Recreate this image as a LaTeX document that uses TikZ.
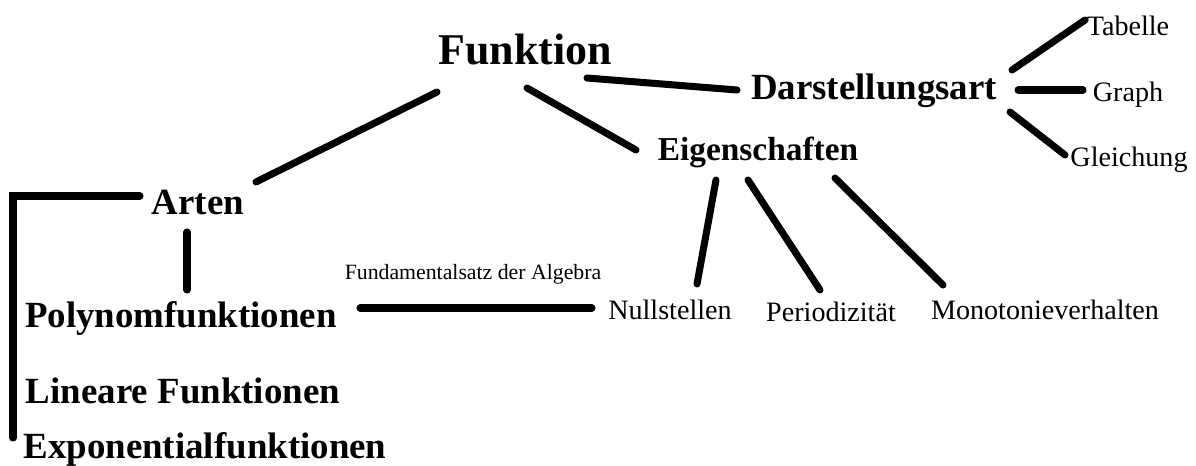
\documentclass[tikz,border=0pt]{standalone}
\usepackage{fontspec}
\setmainfont{Liberation Serif}
\usetikzlibrary{calc}
\tikzstyle{haupt} = [font=\bfseries\fontsize{25}{30}\selectfont, inner sep=0pt, anchor=base]
\tikzstyle{ober} = [font=\bfseries\fontsize{21}{25}\selectfont, inner sep=0pt, anchor=base]
\tikzstyle{eigen} = [font=\bfseries\fontsize{19}{23}\selectfont, inner sep=0pt, anchor=base]
\tikzstyle{unter} = [font=\fontsize{16}{19}\selectfont, inner sep=0pt, anchor=base]
\tikzstyle{klein} = [font=\fontsize{12.4}{15}\selectfont, inner sep=0pt, anchor=base]
\tikzstyle{ast} = [line width=4pt, line cap=round]

\begin{document}
\begin{tikzpicture}[x=0.02cm, y=-0.02cm]
				\fill[white] (0,0) rectangle (1196,466);
				\useasboundingbox (0,0) rectangle (1196,466);
				\node[haupt] (fkt) at (525,65) {Funktion};
				\node[ober] (darst) at (874,100) {Darstellungsart};
				\node[eigen] (eig) at (758,160) {Eigenschaften};
				\node[unter] (tab) at (1128,36) {Tabelle};
				\node[unter] (graph) at (1128,102) {Graph};
				\node[unter] (gleich) at (1129,166) {Gleichung};
				\node[ober] (arten) at (198,214) {Arten};
				\node[ober] (poly) at (181,327) {Polynomfunktionen};
				\node[ober] (lin) at (183,403) {Lineare Funktionen};
				\node[ober] (expo) at (205,458) {Exponentialfunktionen};
				\node[unter] (null) at (670,319) {Nullstellen};
				\node[unter] (period) at (831,321) {Periodizität};
				\node[unter] (mono) at (1045,319) {Monotonieverhalten};
				\node[klein] (fsa) at (473,279) {Fundamentalsatz der Algebra};
				
				% draw lines
				\draw[ast] ($(fkt.base)+(62,13)$) -- ($(darst.base)+(-137,-10)$);
				\draw[ast] ($(fkt.base)+(-88,27)$) -- ($(arten.base)+(58,-32)$);
				\draw[ast] ($(fkt.base)+(2,23)$) -- ($(eig.base)+(-122,-10)$);
				\draw[ast] ($(darst.base)+(138,-30)$) -- ($(tab.base)+(-43,-16)$);
				\draw[ast] ($(darst.base)+(144,-10)$) -- ($(graph.base)+(-45,-12)$);
				\draw[ast] ($(darst.base)+(136,12)$) -- ($(gleich.base)+(-64,-11)$);
				\draw[ast] ($(eig.base)+(-42,20)$) -- ($(null.base)+(27,-35)$);
				\draw[ast] ($(eig.base)+(-10,20)$) -- ($(period.base)+(-11,-31)$);
				\draw[ast] ($(eig.base)+(77,18)$) -- ($(mono.base)+(-102,-34)$);
				\draw[ast] ($(arten.base)+(-11,18)$) -- ($(poly.base)+(6,-37)$);
				\draw[ast] ($(arten.base)+(-58,-18)$) -| ($(expo.base)+(-192,-20)$);
				\draw[ast] ($(poly.base)+(179,-19)$) -- ($(null.base)+(-78,-11)$);
			\end{tikzpicture}
\end{document}
